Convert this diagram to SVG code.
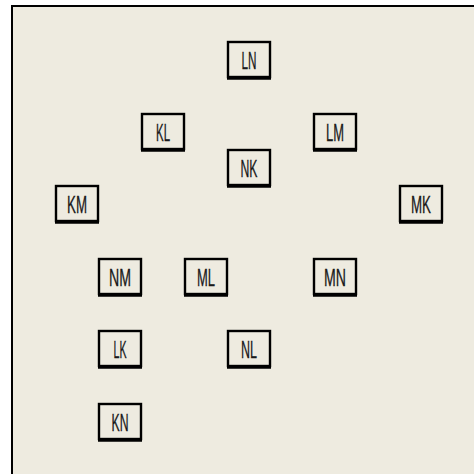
<svg xmlns="http://www.w3.org/2000/svg" width="474" height="474" viewBox="0 0 474 474">
<style>
.bg{fill:#EEEBE0}
.frame{stroke:#000;stroke-width:2;fill:none}
.box rect{fill:#EEEBE0;stroke:#000;stroke-width:2.4}
.box line{stroke:#000;stroke-width:2.4}
.box text{font-family:"Liberation Sans",Arial,sans-serif;font-size:23px;fill:#1a1a1a;text-anchor:middle;stroke:#1a1a1a;stroke-width:0.3}
</style>
<rect x="0" y="0" width="474" height="474" fill="#fff"/>
<rect class="bg" x="12" y="6" width="462" height="468"/>
<path class="frame" d="M12,474 V6 H474"/>
<g id="connectors"></g>
<g id="LN" class="box"><rect x="228" y="42" width="42" height="35"/><line x1="227" y1="78.5" x2="271" y2="78.5"/><text x="249" y="69" textLength="15" lengthAdjust="spacingAndGlyphs">LN</text></g>
<g id="KL" class="box"><rect x="142" y="114" width="42" height="35"/><line x1="141" y1="150.5" x2="185" y2="150.5"/><text x="163" y="141" textLength="14" lengthAdjust="spacingAndGlyphs">KL</text></g>
<g id="LM" class="box"><rect x="314" y="114" width="42" height="35"/><line x1="313" y1="150.5" x2="357" y2="150.5"/><text x="335" y="141" textLength="18" lengthAdjust="spacingAndGlyphs">LM</text></g>
<g id="NK" class="box"><rect x="228" y="150" width="42" height="35"/><line x1="227" y1="186.5" x2="271" y2="186.5"/><text x="249" y="177" textLength="17" lengthAdjust="spacingAndGlyphs">NK</text></g>
<g id="KM" class="box"><rect x="56" y="186" width="42" height="35"/><line x1="55" y1="222.5" x2="99" y2="222.5"/><text x="77" y="213" textLength="20" lengthAdjust="spacingAndGlyphs">KM</text></g>
<g id="MK" class="box"><rect x="400" y="186" width="42" height="35"/><line x1="399" y1="222.5" x2="443" y2="222.5"/><text x="421" y="213" textLength="20" lengthAdjust="spacingAndGlyphs">MK</text></g>
<g id="NM" class="box"><rect x="99" y="259" width="42" height="35"/><line x1="98" y1="295.5" x2="142" y2="295.5"/><text x="120" y="286" textLength="22" lengthAdjust="spacingAndGlyphs">NM</text></g>
<g id="ML" class="box"><rect x="185" y="259" width="42" height="35"/><line x1="184" y1="295.5" x2="228" y2="295.5"/><text x="206" y="286" textLength="18" lengthAdjust="spacingAndGlyphs">ML</text></g>
<g id="MN" class="box"><rect x="314" y="259" width="42" height="35"/><line x1="313" y1="295.5" x2="357" y2="295.5"/><text x="335" y="286" textLength="22" lengthAdjust="spacingAndGlyphs">MN</text></g>
<g id="LK" class="box"><rect x="99" y="331" width="42" height="35"/><line x1="98" y1="367.5" x2="142" y2="367.5"/><text x="120" y="358" textLength="13" lengthAdjust="spacingAndGlyphs">LK</text></g>
<g id="NL" class="box"><rect x="228" y="331" width="42" height="35"/><line x1="227" y1="367.5" x2="271" y2="367.5"/><text x="249" y="358" textLength="16" lengthAdjust="spacingAndGlyphs">NL</text></g>
<g id="KN" class="box"><rect x="99" y="404" width="42" height="35"/><line x1="98" y1="440.5" x2="142" y2="440.5"/><text x="120" y="431" textLength="17" lengthAdjust="spacingAndGlyphs">KN</text></g>
</svg>
